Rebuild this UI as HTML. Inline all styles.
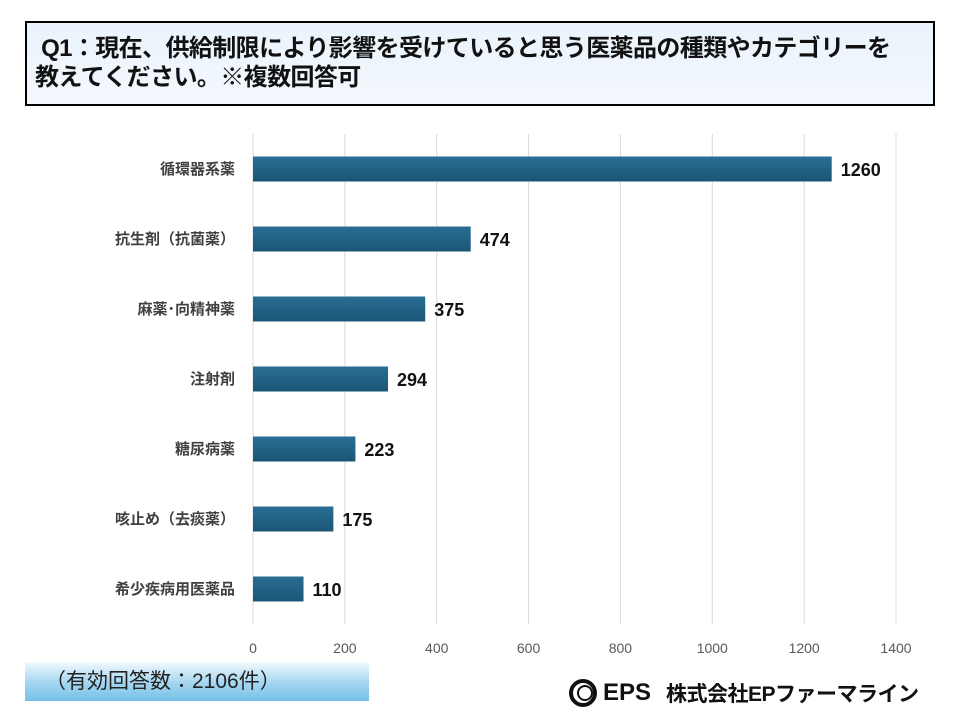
<!DOCTYPE html>
<html><head><meta charset="utf-8"><style>
body{margin:0;width:960px;height:720px;background:#fff;position:relative;overflow:hidden;font-family:"Liberation Sans","Noto Sans CJK JP",sans-serif}
#title{position:absolute;left:25px;top:21px;width:910px;height:85px;border:2px solid #000;background:linear-gradient(#eaf3fc,#f3f8fd);box-sizing:border-box}
#title div{position:absolute;left:8px;top:11px;font-size:24px;font-weight:bold;line-height:29px;color:#111;letter-spacing:-0.6px;white-space:nowrap}
#n{position:absolute;left:25px;top:662px;width:344px;height:39px;background:linear-gradient(#f2f9fd,#a9d8f1 50%,#74c0e8);font-size:21px;color:#222;line-height:39px;padding-left:20px;box-sizing:border-box}
#logo{position:absolute;left:568px;top:678px;font-size:21px;font-weight:bold;color:#111;display:flex;align-items:center;gap:5px}
</style></head><body>
<div id="title"><div>&nbsp;Q1：現在、供給制限により影響を受けていると思う医薬品の種類やカテゴリーを<br>教えてください。※複数回答可</div></div>
<svg id="chart" width="960" height="720" style="position:absolute;left:0;top:0"></svg>
<div id="n">（有効回答数：2106件）</div>
<div id="logo"><svg width="30" height="30" viewBox="0 0 30 30"><circle cx="15" cy="15" r="12" fill="none" stroke="#111" stroke-width="4"/><circle cx="17" cy="15" r="7" fill="none" stroke="#111" stroke-width="2"/></svg><span style="font-size:24px">EPS</span><span style="margin-left:10px;letter-spacing:-0.5px">株式会社EPファーマライン</span></div>
<script>
const categories=["循環器系薬","抗生剤（抗菌薬）","麻薬･向精神薬","注射剤","糖尿病薬","咳止め（去痰薬）","希少疾病用医薬品"];
const values=[1260,474,375,294,223,175,110];
const ticks=[0,200,400,600,800,1000,1200,1400];
const ns="http://www.w3.org/2000/svg";
const svg=document.getElementById('chart');
const x0=253,x1=896,xmax=1400,yTop=134,step=70,bh=25;
const X=v=>x0+(x1-x0)*v/xmax;
const Y=i=>yTop+step*i+step/2;
function mk(t,a){const e=document.createElementNS(ns,t);for(const k in a)e.setAttribute(k,a[k]);svg.appendChild(e);return e;}
const defs=mk('defs',{});
defs.innerHTML='<linearGradient id="g" x1="0" y1="0" x2="0" y2="1"><stop offset="0" stop-color="#2a6e94"/><stop offset="1" stop-color="#1b5576"/></linearGradient>';
ticks.forEach(t=>{
 const l=mk('line',{x1:X(t),x2:X(t),y1:134,y2:624,stroke:'#d9d9d9','stroke-width':1});
 
 
 const tx=mk('text',{x:X(t),y:653,'text-anchor':'middle','font-size':14,fill:'#595959'});
 tx.textContent=t;
 
 
});
categories.forEach((c,i)=>{
 const y=Y(i);
 const r=mk('rect',{x:x0,y:y-bh/2,width:X(values[i])-x0,height:bh,fill:'url(#g)'});
 
 
 const lb=mk('text',{x:235,y:y+5,'text-anchor':'end','font-size':15,'font-weight':'bold',fill:'#404040'});
 lb.textContent=c;
 
 
 const v=mk('text',{x:X(values[i])+9,y:y+7,'font-size':18,'font-weight':'bold',fill:'#111'});
 v.textContent=values[i];
 
 
});
</script>
</body></html>
